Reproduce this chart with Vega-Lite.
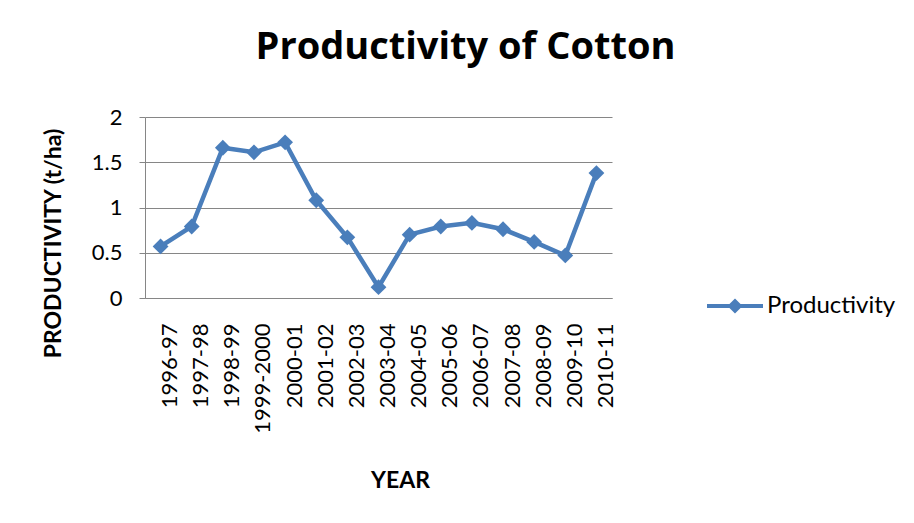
{
  "$schema": "https://vega.github.io/schema/vega-lite/v6.json",
  "width": 467,
  "height": 181,
  "autosize": {"type": "none"},
  "padding": {"left": 145, "top": 117, "right": 302, "bottom": 225},
  "background": "white",
  "title": {
    "text": "Productivity of Cotton",
    "font": "Open Sans",
    "fontWeight": "bold",
    "fontSize": 38,
    "color": "#000000",
    "anchor": "middle",
    "frame": "group",
    "baseline": "alphabetic",
    "dx": 87,
    "offset": 9
  },
  "data": {
    "values": [
      {"year": "1996-97", "productivity": 0.57},
      {"year": "1997-98", "productivity": 0.79},
      {"year": "1998-99", "productivity": 1.66},
      {"year": "1999-2000", "productivity": 1.61},
      {"year": "2000-01", "productivity": 1.72},
      {"year": "2001-02", "productivity": 1.08},
      {"year": "2002-03", "productivity": 0.67},
      {"year": "2003-04", "productivity": 0.12},
      {"year": "2004-05", "productivity": 0.70},
      {"year": "2005-06", "productivity": 0.79},
      {"year": "2006-07", "productivity": 0.83},
      {"year": "2007-08", "productivity": 0.76},
      {"year": "2008-09", "productivity": 0.62},
      {"year": "2009-10", "productivity": 0.47},
      {"year": "2010-11", "productivity": 1.38}
    ]
  },
  "encoding": {
    "x": {
      "field": "year",
      "type": "nominal",
      "sort": null,
      "title": "YEAR",
      "axis": {
        "labelAngle": 270,
        "labelAlign": "right",
        "labelBaseline": "alphabetic",
        "labelOffset": 16,
        "labelPadding": 25,
        "ticks": false,
        "tickSize": 0,
        "labelFont": "Lato",
        "labelFontSize": 22,
        "labelColor": "#000000",
        "domainColor": "#868686",
        "domainWidth": 1,
        "grid": false,
        "titleFont": "Lato",
        "titleFontSize": 23,
        "titleFontWeight": "bold",
        "titleColor": "#000000",
        "titleAnchor": "start",
        "titleAlign": "center",
        "titleBaseline": "alphabetic",
        "titleX": 255,
        "titleY": 189
      }
    },
    "y": {
      "field": "productivity",
      "type": "quantitative",
      "title": "PRODUCTIVITY (t/ha)",
      "scale": {"domain": [0, 2], "nice": false, "zero": true},
      "axis": {
        "values": [0, 0.5, 1, 1.5, 2],
        "labelExpr": "datum.value + ''",
        "labelFont": "Lato",
        "labelFontSize": 22,
        "labelColor": "#000000",
        "labelPadding": 17,
        "tickSize": 6,
        "tickColor": "#868686",
        "domainColor": "#868686",
        "gridColor": "#868686",
        "gridWidth": 1,
        "titleFont": "Lato",
        "titleFontSize": 23,
        "titleFontWeight": "bold",
        "titleColor": "#000000",
        "titleAngle": 270,
        "titleAlign": "center",
        "titleBaseline": "alphabetic",
        "titleAnchor": "start",
        "titleX": -85,
        "titleY": 126
      }
    }
  },
  "layer": [
    {
      "mark": {"type": "line", "strokeWidth": 4.5, "color": "#4a7ebb"},
      "encoding": {
        "color": {
          "datum": "Productivity",
          "scale": {"range": ["#4a7ebb"]},
          "legend": {
            "title": null,
            "orient": "none",
            "legendX": 562,
            "legendY": 161,
            "padding": 0,
            "symbolType": "M-1,-0.075L1,-0.075L1,0.075L-1,0.075Z M0,-0.27L0.27,0L0,0.27L-0.27,0Z",
            "symbolSize": 3136,
            "symbolFillColor": "#4a7ebb",
            "symbolStrokeWidth": 0,
            "labelFont": "Lato",
            "labelFontSize": 24,
            "labelColor": "#000000",
            "labelOffset": 4,
            "labelLimit": 300,
            "encode": {
              "symbols": {"update": {"fill": {"value": "#4a7ebb"}, "stroke": {"value": "#4a7ebb"}, "strokeWidth": {"value": 0}}}
            }
          }
        }
      }
    },
    {
      "mark": {"type": "point", "shape": "diamond", "filled": true, "size": 250, "color": "#4a7ebb", "opacity": 1}
    }
  ],
  "config": {
    "view": {"stroke": null}
  }
}
